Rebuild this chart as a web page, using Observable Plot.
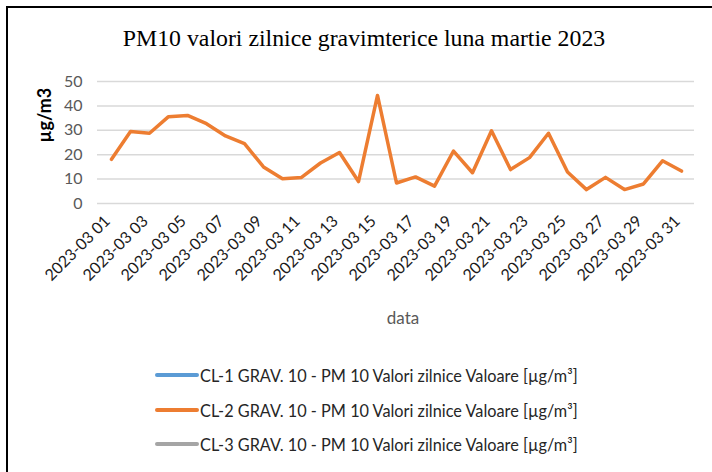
<!DOCTYPE html>
<html>
<head>
<meta charset="utf-8">
<script src="https://cdn.jsdelivr.net/npm/d3@7"></script>
<script src="https://cdn.jsdelivr.net/npm/@observablehq/plot@0.6"></script>
<style>
  html, body { margin: 0; padding: 0; background: #fff; }
  #wrap { position: relative; width: 712px; height: 472px; overflow: hidden; background: #fff; }
  #frame { position: absolute; left: 6px; top: 6px; width: 720px; height: 480px; border-left: 2px solid #000; border-top: 2px solid #000; box-sizing: border-box; }
  #title { position: absolute; left: 0; width: 728px; top: 25px; text-align: center; font-family: "Liberation Serif", serif; font-size: 23.8px; color: #000; white-space: nowrap; }
  #chart { position: absolute; left: 0; top: 0; }
  .leg { position: absolute; left: 155px; font-family: Lato, "Open Sans", sans-serif; font-size: 16.3px; color: #262626; white-space: nowrap; display: flex; align-items: center; }
  .leg .sw { display: inline-block; width: 44px; height: 3.5px; border-radius: 2px; margin-right: 1px; }
</style>
</head>
<body>
<div id="wrap">
  <div id="frame"></div>
  <div id="chart"></div>
  <div id="title">PM10 valori zilnice gravimterice luna martie 2023</div>
  <div id="legend"></div>
</div>
<script>
const dates = ["2023-03 01","2023-03 02","2023-03 03","2023-03 04","2023-03 05","2023-03 06","2023-03 07","2023-03 08","2023-03 09","2023-03 10","2023-03 11","2023-03 12","2023-03 13","2023-03 14","2023-03 15","2023-03 16","2023-03 17","2023-03 18","2023-03 19","2023-03 20","2023-03 21","2023-03 22","2023-03 23","2023-03 24","2023-03 25","2023-03 26","2023-03 27","2023-03 28","2023-03 29","2023-03 30","2023-03 31"];
const cl2Values = [18.1,29.5,28.8,35.6,36.1,32.7,27.7,24.5,15.0,10.1,10.7,16.6,20.9,9.0,44.3,8.4,10.9,7.1,21.5,12.6,29.8,13.9,18.8,28.8,12.9,5.7,10.7,5.7,8.0,17.5,13.3];
const seriesNames = ["CL-1 GRAV. 10 - PM 10 Valori zilnice Valoare [µg/m³]","CL-2 GRAV. 10 - PM 10 Valori zilnice Valoare [µg/m³]","CL-3 GRAV. 10 - PM 10 Valori zilnice Valoare [µg/m³]"];
const seriesColors = ["#5b9bd5","#ed7d31","#a5a5a5"];
const yTicks = [0,10,20,30,40,50];
const xTicks = dates.filter((d,i) => i % 2 === 0);
const yLabel = "µg/m3";
const xLabel = "data";

const rows = dates.map((d,i) => ({date: d, value: cl2Values[i], series: seriesNames[1]}));

const chart = Plot.plot({
  width: 712,
  height: 330,
  marginLeft: 97,
  marginRight: 18,
  marginTop: 81,
  marginBottom: 127,
  style: {background: "transparent", overflow: "visible"},
  x: {type: "point", domain: dates, padding: 0.5},
  y: {domain: [0, 50]},
  marks: [
    Plot.gridY(yTicks, {stroke: "#d9d9d9", strokeOpacity: 1, strokeWidth: 1.5}),
    Plot.axisY(yTicks, {tickSize: 0, tickPadding: 15, fontSize: 16, fill: "#595959", fontFamily: "Lato, sans-serif", label: null}),
    Plot.axisX(xTicks, {tickSize: 0, tickPadding: 12, dx: -4, dy: 3, tickRotate: -45, fontSize: 16, fill: "#1a1a1a", fontFamily: "Lato, sans-serif", label: null}),
    Plot.lineY(rows, {x: "date", y: "value", stroke: seriesColors[1], strokeWidth: 3.5, strokeLinejoin: "round", strokeLinecap: "round"}),
    Plot.text([yLabel], {frameAnchor: "left", dx: -52, rotate: -90, fontSize: 18, fontWeight: "bold", fill: "#000", fontFamily: "Lato, sans-serif"}),
    Plot.text([xLabel], {frameAnchor: "bottom", dx: 7, dy: 120, fontSize: 17, fill: "#595959", fontFamily: "Lato, sans-serif"})
  ]
});
document.getElementById("chart").appendChild(chart);

const legend = document.getElementById("legend");
const legTops = [375, 410, 444];
seriesNames.forEach((name, i) => {
  const div = document.createElement("div");
  div.className = "leg";
  div.style.top = (legTops[i] - 10) + "px";
  div.style.height = "20px";
  const sw = document.createElement("span");
  sw.className = "sw";
  sw.style.background = seriesColors[i];
  div.appendChild(sw);
  const t = document.createElement("span");
  t.textContent = name;
  div.appendChild(t);
  legend.appendChild(div);
});
</script>
</body>
</html>
